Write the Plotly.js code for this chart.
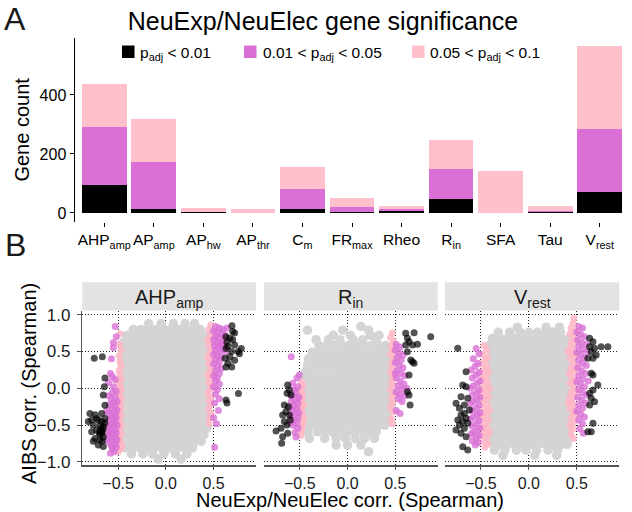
<!DOCTYPE html>
<html><head><meta charset="utf-8">
<script src="https://cdn.plot.ly/plotly-3.0.1.min.js"></script>
<style>html,body{margin:0;padding:0;background:#fff}#chart{width:632px;height:512px}</style>
</head><body><div id="chart"></div>
<script>
// ---------- Panel A data ----------
const categories = ['AHP<sub>amp</sub>','AP<sub>amp</sub>','AP<sub>hw</sub>','AP<sub>thr</sub>','C<sub>m</sub>','FR<sub>max</sub>','Rheo','R<sub>in</sub>','SFA','Tau','V<sub>rest</sub>'];
const countP001 = [95,12,2,0,14,2,6,49,0,4,72];
const countP005 = [198,160,3,0,66,19,9,101,0,4,212];
const countP01  = [143,147,12,14,77,29,9,99,144,17,281];
const legendLabels = ['p<sub>adj</sub> &lt; 0.01','0.01 &lt; p<sub>adj</sub> &lt; 0.05','0.05 &lt; p<sub>adj</sub> &lt; 0.1'];
const facetLabels = ['AHP<sub>amp</sub>','R<sub>in</sub>','V<sub>rest</sub>'];

// ---------- Panel B data (gray rows: [y, x, x, ...]; others: [x, y] pairs) ----------
const grayAHP = [
 [0.88,-0.18,-0.05,0.08,0.2,0.3],
 [0.80,-0.34,-0.26,-0.18,-0.1,-0.02,0.05,0.13,0.21,0.28,0.36],
 [0.72,-0.41,-0.33,-0.25,-0.17,-0.09,-0.02,0.06,0.14,0.22,0.3,0.37,0.43],
 [0.63,-0.44,-0.37,-0.29,-0.21,-0.13,-0.05,0.02,0.1,0.18,0.26,0.33,0.41,0.45],
 [0.54,-0.45,-0.38,-0.3,-0.22,-0.15,-0.08,0.0,0.07,0.15,0.22,0.3,0.37,0.44],
 [0.45,-0.42,-0.34,-0.26,-0.19,-0.11,-0.04,0.04,0.11,0.19,0.26,0.34,0.41,0.45],
 [0.36,-0.45,-0.38,-0.3,-0.23,-0.15,-0.07,0.0,0.08,0.15,0.23,0.3,0.38,0.44],
 [0.27,-0.42,-0.34,-0.27,-0.19,-0.11,-0.03,0.04,0.12,0.19,0.27,0.34,0.41],
 [0.18,-0.46,-0.38,-0.3,-0.23,-0.15,-0.08,0.0,0.08,0.15,0.23,0.31,0.38,0.44],
 [0.09,-0.42,-0.34,-0.26,-0.19,-0.11,-0.04,0.04,0.11,0.19,0.27,0.34,0.41],
 [0.00,-0.46,-0.38,-0.3,-0.22,-0.15,-0.07,0.0,0.08,0.16,0.23,0.31,0.38,0.45],
 [-0.09,-0.42,-0.34,-0.27,-0.19,-0.11,-0.03,0.04,0.12,0.19,0.27,0.35,0.42],
 [-0.18,-0.46,-0.38,-0.3,-0.23,-0.15,-0.07,0.0,0.08,0.16,0.23,0.31,0.38,0.44],
 [-0.27,-0.42,-0.34,-0.26,-0.19,-0.11,-0.04,0.04,0.12,0.19,0.27,0.35,0.42],
 [-0.36,-0.46,-0.38,-0.3,-0.22,-0.15,-0.07,0.01,0.08,0.16,0.24,0.31,0.38,0.44],
 [-0.45,-0.42,-0.34,-0.27,-0.19,-0.11,-0.03,0.04,0.12,0.2,0.27,0.35,0.42],
 [-0.54,-0.46,-0.38,-0.3,-0.23,-0.15,-0.07,0.0,0.08,0.16,0.23,0.31,0.38,0.43],
 [-0.63,-0.42,-0.34,-0.26,-0.19,-0.11,-0.04,0.04,0.12,0.19,0.27,0.34,0.4],
 [-0.72,-0.45,-0.38,-0.3,-0.22,-0.15,-0.07,0.01,0.09,0.16,0.24,0.31,0.37],
 [-0.81,-0.43,-0.35,-0.27,-0.19,-0.12,-0.04,0.04,0.12,0.2,0.28],
 [-0.89,-0.36,-0.24,-0.14,-0.02,0.1,0.22],
 [-0.96,-0.08,0.16]
];
const pinkAHP = [[-0.48,0.74],[-0.49,0.6],[-0.47,0.52],[-0.49,0.44],[-0.48,0.36],[-0.47,0.3],[-0.49,0.24],[-0.48,0.18],[-0.47,0.12],[-0.5,0.08],[-0.48,0.03],[-0.47,-0.02],[-0.49,-0.06],[-0.48,-0.1],[-0.47,-0.14],[-0.5,-0.18],[-0.48,-0.22],[-0.47,-0.26],[-0.49,-0.3],[-0.48,-0.34],[-0.47,-0.38],[-0.5,-0.42],[-0.48,-0.46],[-0.47,-0.5],[-0.49,-0.54],[-0.48,-0.58],[-0.47,-0.62],[-0.5,-0.66],[-0.48,-0.7],[-0.47,-0.74],[-0.49,-0.78],[-0.48,-0.82],[-0.5,-0.86],[-0.51,-0.25],[-0.51,-0.45],[-0.51,-0.6],[-0.5,-0.75],[-0.46,-0.8],
 [0.47,0.86],[0.45,0.8],[0.48,0.76],[0.46,0.71],[0.44,0.66],[0.47,0.62],[0.45,0.57],[0.48,0.52],[0.46,0.47],[0.44,0.42],[0.47,0.38],[0.45,0.33],[0.48,0.28],[0.46,0.23],[0.44,0.18],[0.47,0.13],[0.45,0.08],[0.48,0.03],[0.46,-0.02],[0.44,-0.07],[0.47,-0.12],[0.45,-0.17],[0.47,-0.22],[0.45,-0.28],[0.47,-0.34],[0.46,-0.4],[0.45,-0.48],[0.49,0.7],[0.49,0.45],[0.49,0.2]];
const purpleAHP = [[-0.53,0.84],[-0.55,0.62],[-0.55,0.55],[-0.57,0.4],[-0.52,0.7],[-0.58,0.2],[-0.56,0.16],[-0.6,0.08],[-0.53,0.12],[-0.55,0.02],
 [-0.52,-0.04],[-0.56,-0.06],[-0.6,-0.1],[-0.53,-0.12],[-0.57,-0.15],[-0.51,-0.18],[-0.55,-0.2],[-0.59,-0.22],[-0.53,-0.25],[-0.57,-0.28],[-0.51,-0.3],[-0.55,-0.32],[-0.6,-0.34],[-0.53,-0.36],[-0.57,-0.38],[-0.52,-0.4],[-0.56,-0.42],[-0.6,-0.44],[-0.53,-0.46],[-0.57,-0.48],[-0.51,-0.5],[-0.55,-0.52],[-0.59,-0.54],[-0.53,-0.56],[-0.57,-0.58],[-0.52,-0.6],[-0.56,-0.62],[-0.6,-0.64],[-0.53,-0.66],[-0.57,-0.68],[-0.51,-0.7],[-0.55,-0.72],[-0.59,-0.74],[-0.53,-0.76],[-0.57,-0.78],[-0.52,-0.8],[-0.56,-0.82],[-0.54,-0.86],[-0.58,-0.88],[-0.61,-0.6],[-0.62,-0.3],[-0.61,-0.5],[-0.62,-0.7],
 [0.52,0.84],[0.56,0.82],[0.6,0.8],[0.5,0.78],[0.54,0.76],[0.58,0.74],[0.62,0.72],[0.52,0.7],[0.56,0.68],[0.5,0.66],[0.6,0.65],[0.54,0.62],[0.58,0.6],[0.51,0.58],[0.55,0.56],[0.59,0.54],[0.52,0.52],[0.56,0.49],[0.5,0.46],[0.54,0.44],[0.58,0.42],[0.52,0.39],[0.56,0.36],[0.5,0.33],[0.54,0.3],[0.58,0.27],[0.52,0.24],[0.56,0.2],[0.5,0.17],[0.54,0.14],[0.52,0.1],[0.56,0.06],[0.5,0.02],[0.54,-0.02],[0.52,-0.08],[0.56,-0.14],[0.51,-0.2],[0.55,-0.3],[0.5,-0.4],[0.53,-0.48],[0.51,-0.8],[0.6,0.6],[0.62,0.5],[0.64,0.82]];
const blackAHP = [[-0.795,-0.34],[-0.742,-0.36],[-0.672,-0.34],[-0.777,-0.43],[-0.708,-0.43],[-0.672,-0.45],[-0.76,-0.5],[-0.69,-0.5],[-0.655,-0.52],[-0.777,-0.59],[-0.725,-0.57],[-0.672,-0.59],[-0.69,-0.63],[-0.655,-0.66],[-0.742,-0.68],[-0.69,-0.7],[-0.665,-0.72],[-0.708,-0.77],[-0.655,-0.79],[-0.76,-0.72],[-0.638,0.14],[-0.644,0.02],[-0.655,-0.09],[-0.638,-0.23],[-0.75,0.41],[-0.665,0.43],[-0.725,-0.41],[-0.638,-0.41],[-0.812,-0.45],[-0.66,-0.56],[-0.67,-0.61],[-0.68,-0.55],[-0.7,-0.6],[-0.64,-0.47],
 [0.693,0.85],[0.7,0.77],[0.63,0.7],[0.67,0.68],[0.64,0.63],[0.7,0.66],[0.72,0.59],[0.65,0.57],[0.63,0.54],[0.79,0.54],[0.69,0.5],[0.76,0.5],[0.67,0.43],[0.62,0.41],[0.72,0.38],[0.65,0.34],[0.63,0.29],[0.69,0.29],[0.77,0.47],[0.76,-0.07],[0.63,-0.16],[0.64,-0.2],[0.72,0.75]];

const grayRin = [
 [0.84,0.14],
 [0.79,-0.42,-0.05,0.22],
 [0.72,-0.15,0.03,0.24,0.33],
 [0.66,-0.33,-0.2,-0.08,0.06,0.16,0.3],
 [0.58,-0.3,-0.22,-0.14,-0.06,0.01,0.09,0.17,0.25,0.33,0.4],
 [0.49,-0.37,-0.29,-0.21,-0.13,-0.05,0.03,0.1,0.18,0.26,0.34,0.42],
 [0.40,-0.41,-0.33,-0.25,-0.17,-0.09,-0.02,0.06,0.14,0.22,0.3,0.37,0.44],
 [0.31,-0.42,-0.37,-0.29,-0.21,-0.13,-0.05,0.02,0.1,0.18,0.26,0.34,0.41,0.46],
 [0.22,-0.44,-0.36,-0.28,-0.2,-0.12,-0.04,0.04,0.12,0.2,0.28,0.36,0.44],
 [0.13,-0.46,-0.39,-0.31,-0.23,-0.15,-0.07,0.01,0.08,0.16,0.24,0.32,0.4,0.46],
 [0.04,-0.44,-0.36,-0.28,-0.2,-0.12,-0.04,0.04,0.12,0.2,0.28,0.36,0.43],
 [-0.05,-0.46,-0.39,-0.31,-0.23,-0.15,-0.07,0.01,0.08,0.16,0.24,0.32,0.4,0.46],
 [-0.14,-0.44,-0.36,-0.28,-0.2,-0.12,-0.04,0.04,0.12,0.2,0.28,0.36,0.43],
 [-0.23,-0.46,-0.39,-0.31,-0.23,-0.15,-0.07,0.01,0.08,0.16,0.24,0.32,0.4,0.45],
 [-0.32,-0.43,-0.36,-0.28,-0.2,-0.12,-0.04,0.04,0.12,0.2,0.28,0.36,0.43],
 [-0.41,-0.42,-0.35,-0.27,-0.19,-0.11,-0.03,0.05,0.13,0.21,0.29,0.37,0.43],
 [-0.50,-0.39,-0.31,-0.23,-0.15,-0.07,0.01,0.09,0.17,0.25,0.33,0.39],
 [-0.59,-0.42,-0.32,-0.24,-0.16,-0.08,0.0,0.08,0.16,0.24,0.3],
 [-0.68,-0.4,-0.24,-0.12,-0.02,0.08,0.18,0.28],
 [-0.77,-0.12,0.0,0.14],
 [-0.86,0.22]
];
const pinkRin = [[-0.48,0.08],[-0.47,0.03],[-0.49,-0.02],[-0.48,-0.07],[-0.47,-0.12],[-0.49,-0.16],[-0.48,-0.2],[-0.47,-0.25],[-0.49,-0.29],[-0.48,-0.33],[-0.47,-0.37],[-0.49,-0.41],[-0.48,-0.45],[-0.47,-0.5],[-0.49,-0.54],[-0.48,-0.58],[-0.5,-0.1],[-0.5,-0.3],[-0.46,-0.22],[-0.46,-0.42],[-0.49,-0.64],
 [0.47,0.75],[0.45,0.69],[0.48,0.64],[0.46,0.58],[0.47,0.52],[0.45,0.46],[0.48,0.4],[0.46,0.34],[0.47,0.28],[0.45,0.22],[0.48,0.16],[0.46,0.1],[0.47,0.04],[0.45,-0.02],[0.48,-0.08],[0.46,-0.14],[0.47,-0.2],[0.45,-0.26],[0.48,-0.32],[0.46,-0.42],[0.47,-0.48],[0.49,0.5],[0.49,0.2]];
const purpleRin = [[-0.59,0.43],[-0.505,0.18],[-0.53,0.14],[-0.575,0.07],[-0.56,-0.02],[-0.52,0.02],[-0.54,-0.06],[-0.58,-0.1],[-0.51,-0.12],[-0.55,-0.15],[-0.59,-0.18],[-0.52,-0.2],[-0.56,-0.23],[-0.6,-0.26],[-0.53,-0.27],[-0.57,-0.3],[-0.51,-0.33],[-0.55,-0.35],[-0.59,-0.38],[-0.52,-0.4],[-0.56,-0.43],[-0.53,-0.47],[-0.57,-0.5],[-0.52,-0.54],[-0.55,-0.6],[-0.54,-0.66],[-0.6,-0.46],
 [0.51,0.6],[0.55,0.56],[0.5,0.52],[0.54,0.48],[0.58,0.45],[0.52,0.42],[0.56,0.38],[0.5,0.35],[0.54,0.31],[0.58,0.28],[0.52,0.24],[0.56,0.2],[0.6,0.17],[0.51,0.14],[0.55,0.1],[0.59,0.06],[0.53,0.03],[0.57,-0.01],[0.51,-0.05],[0.55,-0.08],[0.6,-0.1],[0.53,-0.14],[0.57,-0.18],[0.51,-0.3],[0.55,-0.34],[0.62,0.0],[0.5,0.2]];
const blackRin = [[-0.627,0.045],[-0.61,-0.023],[-0.634,-0.068],[-0.593,-0.09],[-0.662,-0.226],[-0.62,-0.25],[-0.645,-0.317],[-0.61,-0.362],[-0.68,-0.362],[-0.6,-0.43],[-0.662,-0.452],[-0.697,-0.543],[-0.634,-0.498],[-0.627,-0.61],[-0.749,-0.58],[-0.68,-0.656],[-0.69,-0.747],
 [0.609,0.747],[0.697,0.756],[0.627,0.679],[0.644,0.633],[0.732,0.597],[0.871,0.701],[0.68,0.588],[0.627,0.498],[0.662,0.385],[0.68,0.362],[0.697,0.339],[0.644,0.181],[0.627,-0.045],[0.644,-0.09],[0.655,-0.226],[0.609,0.588]];

const grayVrest = [
 [0.83,-0.12,0.18,0.32],
 [0.76,-0.32,-0.2,-0.09,0.0,0.09,0.17,0.25,0.33],
 [0.68,-0.38,-0.3,-0.22,-0.14,-0.06,0.02,0.1,0.18,0.26,0.34,0.42],
 [0.59,-0.41,-0.34,-0.26,-0.18,-0.1,-0.02,0.06,0.14,0.22,0.3,0.38,0.44],
 [0.50,-0.38,-0.3,-0.22,-0.14,-0.06,0.02,0.1,0.18,0.26,0.34,0.41],
 [0.41,-0.41,-0.34,-0.26,-0.18,-0.1,-0.02,0.06,0.14,0.22,0.3,0.38,0.44],
 [0.32,-0.38,-0.3,-0.22,-0.14,-0.06,0.02,0.1,0.18,0.26,0.34,0.41],
 [0.23,-0.41,-0.34,-0.26,-0.18,-0.1,-0.02,0.06,0.14,0.22,0.3,0.38,0.44],
 [0.14,-0.38,-0.3,-0.22,-0.14,-0.06,0.02,0.1,0.18,0.26,0.34,0.41],
 [0.05,-0.41,-0.34,-0.26,-0.18,-0.1,-0.02,0.06,0.14,0.22,0.3,0.38,0.44],
 [-0.04,-0.38,-0.3,-0.22,-0.14,-0.06,0.02,0.1,0.18,0.26,0.34,0.41],
 [-0.13,-0.41,-0.34,-0.26,-0.18,-0.1,-0.02,0.06,0.14,0.22,0.3,0.38,0.44],
 [-0.22,-0.38,-0.3,-0.22,-0.14,-0.06,0.02,0.1,0.18,0.26,0.34,0.41],
 [-0.31,-0.41,-0.34,-0.26,-0.18,-0.1,-0.02,0.06,0.14,0.22,0.3,0.38,0.44],
 [-0.40,-0.38,-0.3,-0.22,-0.14,-0.06,0.02,0.1,0.18,0.26,0.34,0.41],
 [-0.49,-0.41,-0.34,-0.26,-0.18,-0.1,-0.02,0.06,0.14,0.22,0.3,0.38,0.44],
 [-0.58,-0.38,-0.3,-0.22,-0.14,-0.06,0.02,0.1,0.18,0.26,0.34,0.41],
 [-0.67,-0.41,-0.34,-0.26,-0.18,-0.1,-0.02,0.06,0.14,0.22,0.3,0.38,0.43],
 [-0.76,-0.37,-0.3,-0.22,-0.14,-0.06,0.02,0.1,0.18,0.26,0.34,0.4],
 [-0.84,-0.36,-0.25,-0.13,-0.03,0.08,0.2,0.3],
 [-0.91,-0.27,0.06,0.29]
];
const pinkVrest = [[-0.47,0.58],[-0.44,0.52],[-0.48,0.46],[-0.43,0.42],[-0.46,0.38],[-0.49,0.33],[-0.44,0.3],[-0.47,0.25],[-0.42,0.22],[-0.45,0.17],[-0.48,0.12],[-0.43,0.09],[-0.46,0.04],[-0.49,0.0],[-0.44,-0.04],[-0.47,-0.08],[-0.42,-0.11],[-0.45,-0.16],[-0.48,-0.2],[-0.43,-0.23],[-0.46,-0.28],[-0.49,-0.32],[-0.44,-0.35],[-0.47,-0.4],[-0.42,-0.43],[-0.45,-0.47],[-0.48,-0.52],[-0.43,-0.55],[-0.46,-0.6],[-0.49,-0.64],[-0.44,-0.67],[-0.47,-0.72],[-0.43,-0.76],[-0.46,-0.8],[-0.5,-0.4],[-0.5,-0.1],[-0.5,0.2],[-0.41,-0.3],[-0.41,0.0],[-0.41,-0.6],
 [0.47,0.95],[0.46,0.88],[0.44,0.82],[0.48,0.78],[0.43,0.74],[0.46,0.7],[0.49,0.65],[0.44,0.62],[0.47,0.57],[0.42,0.53],[0.45,0.49],[0.48,0.44],[0.43,0.41],[0.46,0.36],[0.49,0.31],[0.44,0.28],[0.47,0.23],[0.42,0.2],[0.45,0.15],[0.48,0.1],[0.43,0.07],[0.46,0.02],[0.49,-0.03],[0.44,-0.06],[0.47,-0.11],[0.42,-0.14],[0.45,-0.19],[0.48,-0.24],[0.43,-0.27],[0.46,-0.32],[0.49,-0.37],[0.44,-0.4],[0.47,-0.45],[0.43,-0.5],[0.46,-0.55],[0.44,-0.62],[0.47,-0.68],[0.41,0.5],[0.41,-0.2]];
const purpleVrest = [[-0.55,0.54],[-0.52,0.47],[-0.58,0.4],[-0.53,0.34],[-0.56,0.3],[-0.6,0.25],[-0.52,0.22],[-0.55,0.18],[-0.59,0.14],[-0.51,0.1],[-0.54,0.07],[-0.58,0.03],[-0.61,0.0],[-0.52,-0.02],[-0.55,-0.06],[-0.59,-0.09],[-0.51,-0.12],[-0.54,-0.15],[-0.58,-0.18],[-0.61,-0.21],[-0.52,-0.23],[-0.55,-0.27],[-0.59,-0.3],[-0.51,-0.33],[-0.54,-0.36],[-0.58,-0.39],[-0.61,-0.42],[-0.52,-0.44],[-0.55,-0.48],[-0.59,-0.51],[-0.51,-0.54],[-0.54,-0.57],[-0.58,-0.6],[-0.52,-0.64],[-0.55,-0.68],[-0.59,-0.71],[-0.53,-0.74],[-0.56,-0.77],[-0.6,-0.62],
 [0.52,0.84],[0.56,0.82],[0.5,0.76],[0.54,0.73],[0.58,0.7],[0.51,0.66],[0.55,0.62],[0.6,0.6],[0.52,0.57],[0.56,0.53],[0.5,0.49],[0.54,0.46],[0.58,0.42],[0.52,0.38],[0.56,0.34],[0.6,0.31],[0.51,0.28],[0.55,0.24],[0.59,0.2],[0.52,0.17],[0.56,0.13],[0.5,0.09],[0.54,0.06],[0.58,0.02],[0.52,-0.02],[0.56,-0.06],[0.6,-0.09],[0.51,-0.12],[0.55,-0.16],[0.59,-0.2],[0.52,-0.23],[0.56,-0.27],[0.5,-0.31],[0.54,-0.35],[0.58,-0.39],[0.52,-0.43],[0.56,-0.48],[0.53,-0.55],[0.57,-0.61],[0.61,0.5],[0.62,0.1]];
const blackVrest = [[-0.742,0.543],[-0.655,0.226],[-0.69,0.045],[-0.655,0.023],[-0.708,-0.113],[-0.638,-0.136],[-0.76,-0.204],[-0.673,-0.226],[-0.725,-0.271],[-0.62,-0.294],[-0.673,-0.339],[-0.708,-0.362],[-0.655,-0.407],[-0.742,-0.43],[-0.69,-0.452],[-0.638,-0.475],[-0.725,-0.498],[-0.673,-0.543],[-0.76,-0.566],[-0.708,-0.611],[-0.655,-0.656],[-0.69,-0.792],[-0.638,-0.837],
 [0.634,0.679],[0.669,0.633],[0.634,0.566],[0.686,0.543],[0.755,0.566],[0.825,0.566],[0.651,0.498],[0.703,0.452],[0.669,0.407],[0.616,0.407],[0.651,0.204],[0.669,0.181],[0.72,0.045],[0.669,-0.023],[0.634,-0.068],[0.651,-0.136],[0.686,-0.181],[0.634,-0.226],[0.669,-0.475],[0.651,-0.588],[0.616,-0.588]];

// ---------- helpers ----------
function fromRows(r){const x=[],y=[];r.forEach(row=>{for(let i=1;i<row.length;i++){x.push(row[i]);y.push(row[0]);}});return {x,y};}
function fromPairs(a){return {x:a.map(p=>p[0]),y:a.map(p=>p[1])};}

const cBlack='#000000', cPurple='#DA70D6', cPink='#FFC0CB';
const traces = [];
traces.push({type:'bar',x:categories,y:countP001,marker:{color:cBlack,line:{width:0}},width:0.9,showlegend:false,hoverinfo:'skip',xaxis:'x',yaxis:'y'});
traces.push({type:'bar',x:categories,y:countP005,marker:{color:cPurple,line:{width:0}},width:0.9,showlegend:false,hoverinfo:'skip',xaxis:'x',yaxis:'y'});
traces.push({type:'bar',x:categories,y:countP01,marker:{color:cPink,line:{width:0}},width:0.9,showlegend:false,hoverinfo:'skip',xaxis:'x',yaxis:'y'});

const panels = [
 {g:grayAHP,pk:pinkAHP,pu:purpleAHP,bk:blackAHP,xa:'x2',ya:'y2'},
 {g:grayRin,pk:pinkRin,pu:purpleRin,bk:blackRin,xa:'x3',ya:'y3'},
 {g:grayVrest,pk:pinkVrest,pu:purpleVrest,bk:blackVrest,xa:'x4',ya:'y4'}
];
panels.forEach(p=>{
  const g=fromRows(p.g);
  traces.push({type:'scatter',mode:'markers',x:g.x,y:g.y,xaxis:p.xa,yaxis:p.ya,showlegend:false,hoverinfo:'skip',
    marker:{size:9.5,color:'rgb(212,212,212)',opacity:1,line:{width:0}}});
  [[p.pk,'rgb(255,182,196)',0.85],[p.pu,'rgb(218,112,214)',0.8],[p.bk,'rgb(0,0,0)',0.68]].forEach(s=>{
    const d=fromPairs(s[0]);
    traces.push({type:'scatter',mode:'markers',x:d.x,y:d.y,xaxis:p.xa,yaxis:p.ya,showlegend:false,hoverinfo:'skip',
      marker:{size:7,color:s[1],opacity:s[2],line:{width:0}}});
  });
});

// ---------- layout ----------
const W=632,H=512;
const px=v=>v/W, py=v=>1-v/H;
const fam='"Liberation Sans", Arial, Helvetica, sans-serif';
const panelX=[[82.3,256],[264,437.7],[445,619.3]];
const bTop=311, bBot=465.3;

const bx = {range:[-0.875,0.944],tickvals:[-0.5,0,0.5],ticktext:['\u22120.5','0.0','0.5'],
  showgrid:true,gridcolor:'#222',gridwidth:1,griddash:'1px,2px',zeroline:false,
  showline:true,linecolor:'#555',linewidth:1.5,ticks:'outside',ticklen:3,tickcolor:'#555',tickwidth:1,
  tickfont:{size:16,color:'#1a1a1a'},fixedrange:true};
const by = {range:[-1.045,1.05],tickvals:[-1,-0.5,0,0.5,1],ticktext:['\u22121.0','\u22120.5','0.0','0.5','1.0'],
  showgrid:true,gridcolor:'#222',gridwidth:1,griddash:'1px,2px',zeroline:false,
  domain:[py(bBot),py(bTop)],fixedrange:true};

const layout = {
  width:W,height:H,margin:{l:0,r:0,t:0,b:0},paper_bgcolor:'#fff',plot_bgcolor:'rgba(0,0,0,0)',
  font:{family:fam,color:'#000'},
  showlegend:false,barmode:'stack',bargap:0.1,
  title:{text:'NeuExp/NeuElec gene significance',x:px(323),y:py(21),xanchor:'center',yanchor:'middle',font:{size:25,color:'#000'}},
  xaxis:{domain:[px(74.5),px(629.5)],anchor:'y',type:'category',range:[-0.6,10.6],ticks:'outside',ticklen:4,tickcolor:'#000',
    showline:false,showgrid:false,zeroline:false,tickfont:{size:15.5,color:'#000'},fixedrange:true},
  yaxis:{domain:[py(221.7),py(38)],anchor:'x',range:[-29.5,593],tickvals:[0,200,400],ticks:'outside',ticklen:4,tickcolor:'#000',
    showline:true,linecolor:'#000',linewidth:1,showgrid:false,zeroline:false,tickfont:{size:16,color:'#000'},
    title:{text:'Gene count',font:{size:20,color:'#000'},standoff:4},fixedrange:true},
  xaxis2:Object.assign({},bx,{domain:[px(panelX[0][0]),px(panelX[0][1])],anchor:'y2'}),
  xaxis3:Object.assign({},bx,{domain:[px(panelX[1][0]),px(panelX[1][1])],anchor:'y3'}),
  xaxis4:Object.assign({},bx,{domain:[px(panelX[2][0]),px(panelX[2][1])],anchor:'y4'}),
  yaxis2:Object.assign({},by,{anchor:'x2',showline:true,linecolor:'#555',linewidth:1.5,ticks:'outside',ticklen:4,tickcolor:'#555',
    ticklabelstandoff:3,tickfont:{size:17,color:'#1a1a1a'}}),
  yaxis3:Object.assign({},by,{anchor:'x3',showline:false,ticks:'',showticklabels:false}),
  yaxis4:Object.assign({},by,{anchor:'x4',showline:false,ticks:'',showticklabels:false}),
  shapes:[],annotations:[]
};

// panel letters
layout.annotations.push({text:'A',x:px(3),y:1,xref:'paper',yref:'paper',xanchor:'left',yanchor:'top',showarrow:false,borderpad:0,font:{size:32,color:'#1a1a1a'}});
layout.annotations.push({text:'B',x:px(3),y:py(245),xref:'paper',yref:'paper',xanchor:'left',yanchor:'middle',showarrow:false,font:{size:32,color:'#1a1a1a'}});
// panel B axis titles
layout.annotations.push({text:'AIBS corr. (Spearman)',x:px(29),y:py(384),xref:'paper',yref:'paper',xanchor:'center',yanchor:'middle',textangle:-90,showarrow:false,font:{size:20,color:'#000'}});
layout.annotations.push({text:'NeuExp/NeuElec corr. (Spearman)',x:px(350),y:py(500),xref:'paper',yref:'paper',xanchor:'center',yanchor:'middle',showarrow:false,borderpad:0,font:{size:20,color:'#000'}});

// manual legend
const legX=[[122,138],[244,261],[412,428]];
[cBlack,cPurple,cPink].forEach((c,i)=>{
  layout.shapes.push({type:'rect',xref:'paper',yref:'paper',x0:px(legX[i][0]),x1:px(legX[i][0]+12.5),y0:py(58),y1:py(45.5),fillcolor:c,line:{width:0}});
  layout.annotations.push({text:legendLabels[i],x:px(legX[i][1]),y:py(53),xref:'paper',yref:'paper',xanchor:'left',yanchor:'middle',showarrow:false,font:{size:15.5,color:'#000'}});
});

// facet strips
panelX.forEach((p,i)=>{
  layout.shapes.push({type:'rect',xref:'paper',yref:'paper',x0:px(p[0]),x1:px(p[1]),y0:py(310.5),y1:py(282.3),fillcolor:'#e3e3e3',line:{width:0},layer:'below'});
  layout.annotations.push({text:facetLabels[i],x:px((p[0]+p[1])/2),y:py(298),xref:'paper',yref:'paper',xanchor:'center',yanchor:'middle',showarrow:false,font:{size:20,color:'#1a1a1a'}});
});

Plotly.newPlot('chart',traces,layout,{staticPlot:true,displayModeBar:false});
</script></body></html>
